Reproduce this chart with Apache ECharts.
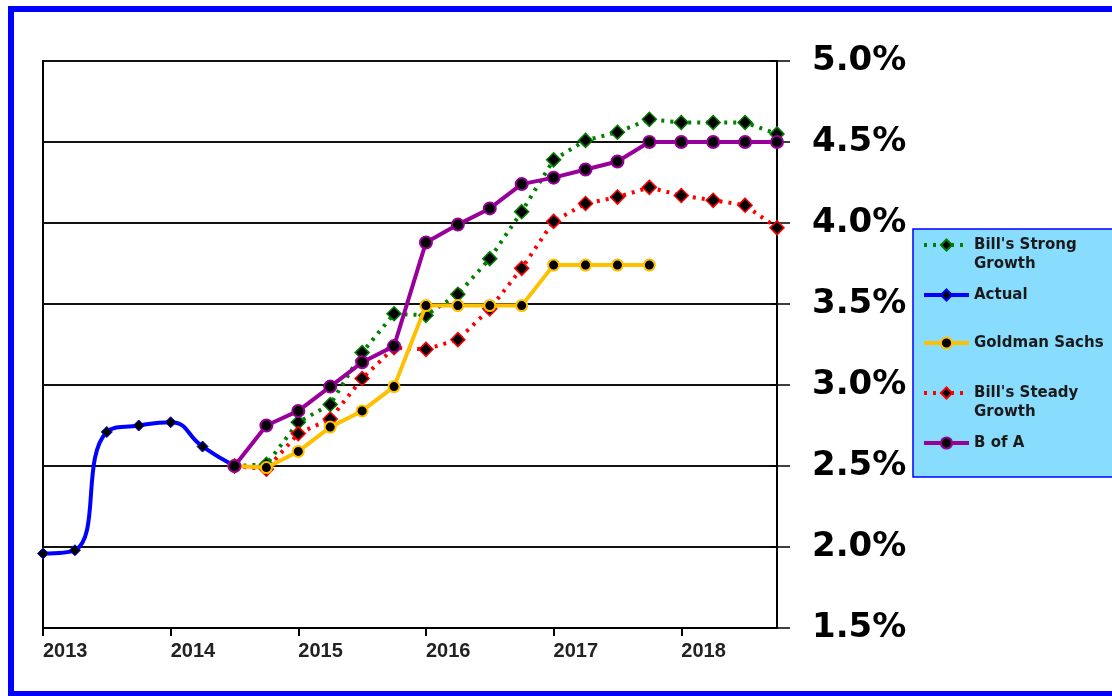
<!DOCTYPE html>
<html>
<head>
<meta charset="utf-8">
<script src="https://cdn.jsdelivr.net/npm/echarts@6/dist/echarts.min.js"></script>
<style>
html,body{margin:0;padding:0;background:#fff;}
#chart{width:1112px;height:696px;}
</style>
</head>
<body>
<div id="chart"></div>
<script>
// Quarterly categories 2013 Q1 .. 2018 Q4
var categories = ['2013 Q1','2013 Q2','2013 Q3','2013 Q4','2014 Q1','2014 Q2','2014 Q3','2014 Q4',
  '2015 Q1','2015 Q2','2015 Q3','2015 Q4','2016 Q1','2016 Q2','2016 Q3','2016 Q4',
  '2017 Q1','2017 Q2','2017 Q3','2017 Q4','2018 Q1','2018 Q2','2018 Q3','2018 Q4'];

var strongGrowth = [null,null,null,null,null,null,2.50,2.51,2.77,2.88,3.20,3.44,3.43,3.56,3.78,4.07,4.39,4.51,4.56,4.64,4.62,4.62,4.62,4.55];
var actual       = [1.96,1.98,2.71,2.75,2.77,2.62,2.50,null,null,null,null,null,null,null,null,null,null,null,null,null,null,null,null,null];
var goldman      = [null,null,null,null,null,null,2.50,2.49,2.59,2.74,2.84,2.99,3.49,3.49,3.49,3.49,3.74,3.74,3.74,3.74,null,null,null,null];
var steadyGrowth = [null,null,null,null,null,null,2.50,2.48,2.70,2.79,3.04,3.23,3.22,3.28,3.47,3.72,4.01,4.12,4.16,4.22,4.17,4.14,4.11,3.97];
var bofa         = [null,null,null,null,null,null,2.50,2.75,2.84,2.99,3.14,3.24,3.88,3.99,4.09,4.24,4.28,4.33,4.38,4.50,4.50,4.50,4.50,4.50];

var yTicks = {min:1.5, max:5.0, interval:0.5};

var NAME_STRONG = "Bill's Strong Growth";
var NAME_ACTUAL = "Actual";
var NAME_GS = "Goldman Sachs";
var NAME_STEADY = "Bill's Steady Growth";
var NAME_BOFA = "B of A";

var chart = echarts.init(document.getElementById('chart'), null, {renderer:'canvas'});

var oneLine = {padding:[17,0,17,0]};

var option = {
  backgroundColor:'#fff',
  animation:false,
  graphic:[{
    type:'rect', silent:true, z:100,
    shape:{x:11, y:9, width:1200, height:685},
    style:{fill:'none', stroke:'#0000FF', lineWidth:6}
  }],
  grid:{left:43, right:335, top:61, bottom:68, show:true, borderColor:'#000', borderWidth:2, backgroundColor:'#fff'},
  legend:{
    orient:'vertical', left:913, top:229,
    padding:[-12.5, 20, 7.5, 9],
    itemGap:-5,
    itemWidth:45, itemHeight:14,
    backgroundColor:'#88DDFF', borderColor:'#0000FF', borderWidth:1.5,
    lineStyle:{width:4},
    textStyle:{fontFamily:'DejaVu Sans', fontWeight:'bold', fontSize:15, color:'#1a1a1a', lineHeight:19},
    formatter:function(n){
      if(n===NAME_STRONG) return "\nBill's Strong\nGrowth";
      if(n===NAME_STEADY) return "\nBill's Steady\nGrowth";
      return n;
    },
    data:[
      {name:NAME_STRONG},
      {name:NAME_ACTUAL, textStyle:oneLine},
      {name:NAME_GS, textStyle:oneLine},
      {name:NAME_STEADY},
      {name:NAME_BOFA, textStyle:oneLine}
    ]
  },
  xAxis:{
    type:'category', data:categories, boundaryGap:false,
    axisLine:{show:true, lineStyle:{color:'#000', width:2}},
    axisTick:{show:true, interval:3, length:8, lineStyle:{color:'#000', width:2}},
    axisLabel:{interval:3, align:'left', margin:13, fontFamily:'Liberation Sans', fontWeight:'bold', fontSize:20, color:'#222',
      formatter:function(v){return v.slice(0,4);}},
    splitLine:{show:false}
  },
  yAxis:[{
    type:'value', position:'right', min:yTicks.min, max:yTicks.max, interval:yTicks.interval,
    axisLine:{show:true, lineStyle:{color:'#000', width:2}},
    axisTick:{show:true, length:13, lineStyle:{color:'#000', width:1.5}},
    axisLabel:{margin:35, fontFamily:'DejaVu Sans', fontWeight:'bold', fontSize:34, color:'#000',
      formatter:function(v){return v.toFixed(1)+'%';}},
    splitLine:{show:true, lineStyle:{color:'#111', width:2}}
  },{
    type:'value', position:'right', min:yTicks.min, max:yTicks.max, interval:yTicks.interval,
    axisLine:{show:false},
    axisTick:{show:true, inside:true, length:7, lineStyle:{color:'#000', width:1.5}},
    axisLabel:{show:false},
    splitLine:{show:false}
  }],
  series:[
    {name:NAME_STRONG, type:'line', data:strongGrowth, z:2,
      lineStyle:{color:'#008000', width:4, type:[3,6]},
      symbol:'diamond', symbolSize:14,
      itemStyle:{color:'#000', borderColor:'#008000', borderWidth:1.5}},
    {name:NAME_STEADY, type:'line', data:steadyGrowth, z:3,
      lineStyle:{color:'#FF0000', width:4, type:[3,6]},
      symbol:'diamond', symbolSize:14,
      itemStyle:{color:'#000', borderColor:'#FF0000', borderWidth:1.5}},
    {name:NAME_ACTUAL, type:'line', data:actual, z:4, smooth:0.5,
      lineStyle:{color:'#0000FF', width:4},
      symbol:'diamond', symbolSize:11,
      itemStyle:{color:'#000', borderColor:'#0000FF', borderWidth:1}},
    {name:NAME_GS, type:'line', data:goldman, z:5,
      lineStyle:{color:'#FFC000', width:4},
      symbol:'circle', symbolSize:11,
      itemStyle:{color:'#000', borderColor:'#FFC000', borderWidth:2}},
    {name:NAME_BOFA, type:'line', data:bofa, z:6,
      lineStyle:{color:'#990099', width:4},
      symbol:'circle', symbolSize:12,
      itemStyle:{color:'#000', borderColor:'#990099', borderWidth:2}}
  ]
};
chart.setOption(option);
</script>
</body>
</html>
